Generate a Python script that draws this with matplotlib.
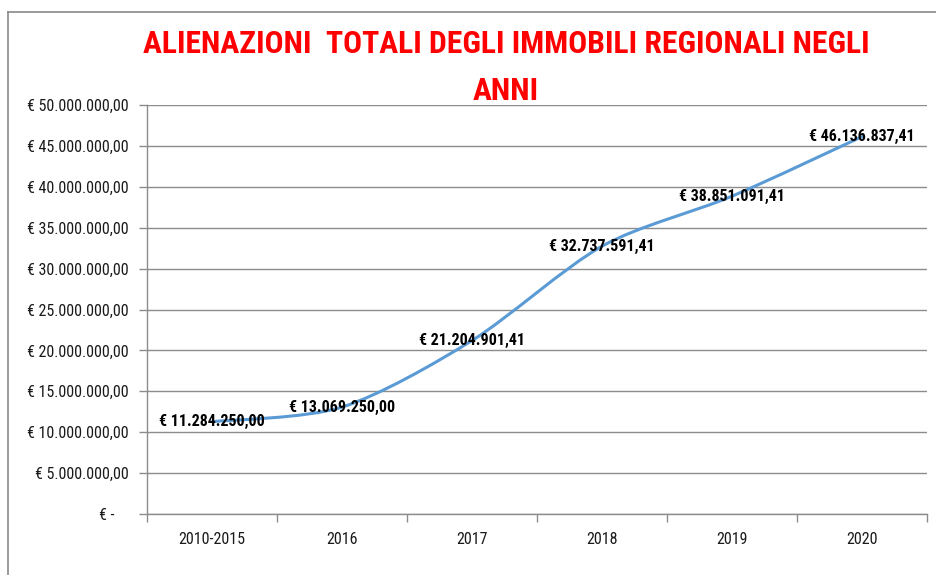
import matplotlib
matplotlib.use('agg')
import matplotlib.pyplot as plt
from matplotlib.path import Path
from matplotlib.patches import PathPatch
from matplotlib.lines import Line2D
from matplotlib.ticker import FuncFormatter, MultipleLocator

anni = ['2010-2015', '2016', '2017', '2018', '2019', '2020']
valori = [11284250.00, 13069250.00, 21204901.41, 32737591.41, 38851091.41, 46136837.41]
titolo_1 = 'ALIENAZIONI  TOTALI DEGLI IMMOBILI REGIONALI NEGLI'
titolo_2 = 'ANNI'

plt.rcParams['font.family'] = ['Roboto Condensed', 'DejaVu Sans']


def euro(v):
    s = '{:,.2f}'.format(v)
    s = s.replace(',', 'X').replace('.', ',').replace('X', '.')
    return '\u20ac ' + s


def euro_tick(v, pos):
    if abs(v) < 1:
        return '\u20ac -    '
    return euro(v)


fig = plt.figure(figsize=(9.37, 5.75), dpi=100)
ax = fig.add_axes([147/937, 1-514/575, 780/937, 409/575])

xs = list(range(len(anni)))

# smoothed line (bezier through the data points, like excel)
verts = [(xs[0], valori[0])]
codes = [Path.MOVETO]
n = len(xs)
k = 1/7
for i in range(n - 1):
    x0, y0 = xs[max(i-1, 0)], valori[max(i-1, 0)]
    x1, y1 = xs[i], valori[i]
    x2, y2 = xs[i+1], valori[i+1]
    x3, y3 = xs[min(i+2, n-1)], valori[min(i+2, n-1)]
    c1 = (x1 + (x2 - x0)*k, y1 + (y2 - y0)*k)
    c2 = (x2 - (x3 - x1)*k, y2 - (y3 - y1)*k)
    verts += [c1, c2, (x2, y2)]
    codes += [Path.CURVE4]*3
ax.add_patch(PathPatch(Path(verts, codes), facecolor='none', edgecolor='#5b9bd5',
                       linewidth=2.2, capstyle='round', zorder=3))

for x, v in zip(xs, valori):
    ax.text(x, v, euro(v), ha='center', va='center', fontsize=11.5,
            fontweight='bold', color='black', zorder=4)

ax.set_xlim(-0.5, n - 0.5)
ax.set_ylim(0, 50000000)
ax.yaxis.set_major_locator(MultipleLocator(5000000))
ax.yaxis.set_major_formatter(FuncFormatter(euro_tick))
ax.set_xticks(xs)
ax.set_xticklabels(anni)
ax.set_xticks([i - 0.5 for i in range(n + 1)], minor=True)
ax.tick_params(axis='x', which='major', length=0, pad=13, labelsize=11.5, labelcolor='#1a1a1a')
ax.tick_params(axis='x', which='minor', length=6, color='#8c8c8c', width=1)
ax.tick_params(axis='y', length=6, color='#8c8c8c', width=1, pad=7, labelsize=11.5, labelcolor='#1a1a1a')
ax.grid(True, axis='y', color='#8c8c8c', linewidth=1)
ax.set_axisbelow(True)
for s in ['top', 'right']:
    ax.spines[s].set_visible(False)
for s in ['left', 'bottom']:
    ax.spines[s].set_color('#8c8c8c')
    ax.spines[s].set_linewidth(1)

fig.text(506/937, 1-41/575, titolo_1, ha='center', va='center_baseline', color='#ff0000',
         fontsize=22.8, fontweight='bold')
fig.text(506/937, 1-88/575, titolo_2, ha='center', va='center_baseline', color='#ff0000',
         fontsize=22.8, fontweight='bold')

# chart border
fig.add_artist(Line2D([8/937, 8/937], [0, 1-12/575], color='#8a8a8a', linewidth=1.2))
fig.add_artist(Line2D([8/937, 1], [1-12/575, 1-12/575], color='#8a8a8a', linewidth=1.2))

fig.savefig('out.png', dpi=100)
